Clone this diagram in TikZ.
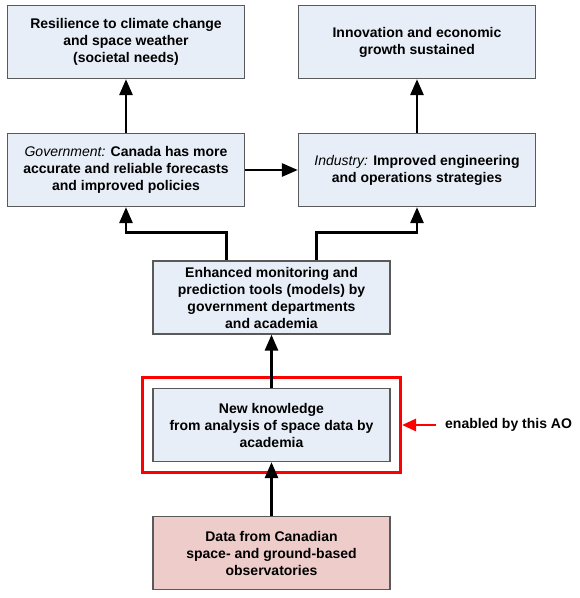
\documentclass[tikz,border=0pt]{standalone}
\usepackage{fontspec}
\setmainfont{Liberation Sans}
\usepackage{tikz}
\usetikzlibrary{arrows.meta, fit}

\definecolor{boxblue}{HTML}{E8EEF8}
\definecolor{boxpink}{HTML}{EDCCCA}
\definecolor{boxline}{HTML}{5A5A5A}

\begin{document}
\begin{tikzpicture}[x=1pt, y=-1pt,
    box/.style={draw=boxline, line width=1.3pt, fill=boxblue, align=center,
      minimum width=237pt, minimum height=73pt, inner sep=2pt,
      font=\fontsize{14}{17}\selectfont\bfseries},
    arr/.style={line width=2.8pt, -{Triangle[width=13pt, length=16pt]}}]
      \useasboundingbox (0,0) rectangle (580,598);
      % outcomes
      \node[box] (resil) at (126,42) {Resilience to climate change\\and space weather\\(societal needs)};
      \node[box] (innov) at (417,42) {Innovation and economic\\growth sustained};
      \node[box] (gov) at (126,170) {\textnormal{\itshape Government:} Canada has more\\accurate and reliable forecasts\\and improved policies};
      \node[box] (ind) at (417,170) {\textnormal{\itshape Industry:} Improved engineering\\and operations strategies};
      % tools, knowledge and data
      \node[box] (tools) at (271.5,297.5) {Enhanced monitoring and\\prediction tools (models) by\\government departments\\and academia};
      \node[box] (know) at (271.5,425) {New knowledge\\from analysis of space data by\\academia};
      \node[box, fill=boxpink] (data) at (271.5,553) {Data from Canadian\\space- and ground-based\\observatories};
      \node[draw=red, line width=2.8pt, inner sep=10pt, fit=(know)] (ao) {};
      \node[anchor=west, inner sep=0pt, font=\fontsize{14}{17}\selectfont\bfseries] (note) at (445,425) {enabled by this AO};

      \draw[arr] (gov) -- (resil);
      \draw[arr] (ind) -- (innov);
      \draw[arr] (gov) -- (ind);
      \draw[arr] ([xshift=-45pt]tools.north) -- ++(0,-28) -| (gov.south);
      \draw[arr] ([xshift=45pt]tools.north) -- ++(0,-28) -| (ind.south);
      \draw[arr] (know) -- (tools);
      \draw[arr] (data) -- (know);
      \draw[red, line width=2.8pt, -{Triangle[width=12pt, length=14pt]}, shorten <=9pt] (note.west) -- (ao.east);
    \end{tikzpicture}
\end{document}
